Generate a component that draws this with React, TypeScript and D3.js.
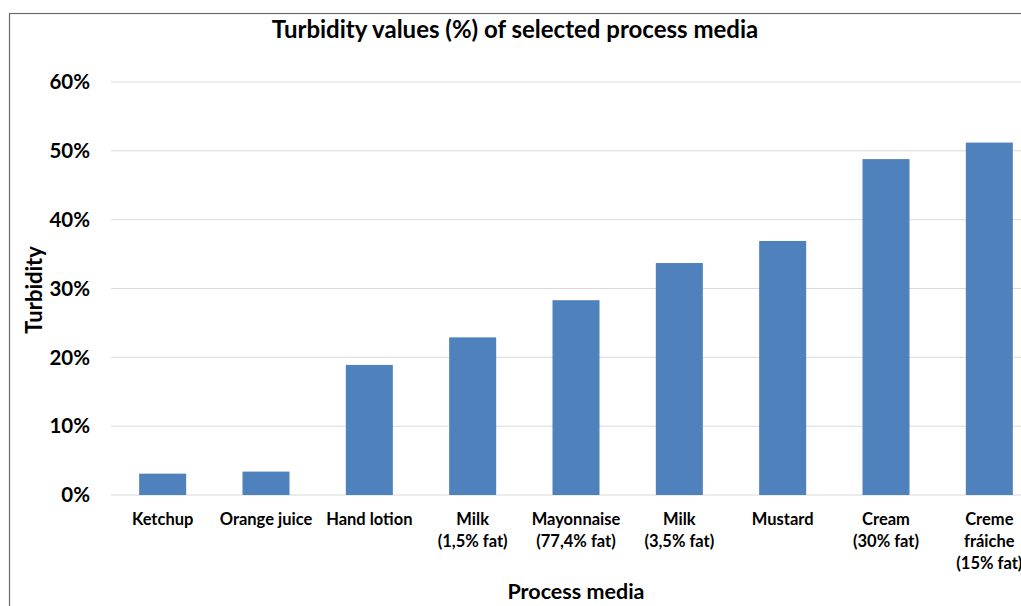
import React from 'react';
import * as d3 from 'd3';

const categories = [
  ['Ketchup'],
  ['Orange juice'],
  ['Hand lotion'],
  ['Milk', '(1,5% fat)'],
  ['Mayonnaise', '(77,4% fat)'],
  ['Milk', '(3,5% fat)'],
  ['Mustard'],
  ['Cream', '(30% fat)'],
  ['Creme', 'fráiche', '(15% fat)'],
];
const turbidity = [0.031, 0.034, 0.189, 0.229, 0.283, 0.337, 0.369, 0.488, 0.512];
const yTicks = [0, 0.1, 0.2, 0.3, 0.4, 0.5, 0.6];

const W = 1021;
const H = 606;
const margin = { top: 82, right: -20, bottom: 111, left: 111 };
const font = 'Lato, "Open Sans", sans-serif';

export default function App() {
  const width = W - margin.left - margin.right;
  const height = H - margin.top - margin.bottom;
  const keys = categories.map((c) => c.join(' '));

  const x = d3.scaleBand().domain(keys).range([0, width]).paddingInner(0.545).paddingOuter(0.2725);
  const y = d3.scaleLinear().domain([0, 0.6]).range([height, 0]);
  const fmt = d3.format('.0%');

  return (
    <svg width={W} height={H} style={{ position: 'absolute', left: 0, top: 0 }}>
      <rect x={0} y={0} width={W} height={H} fill="#fff" />
      <rect x={9.5} y={13.5} width={W + 20} height={H + 20} fill="none" stroke="#6a6a6a" strokeWidth={1.2} />
      <text x={515} y={38} textAnchor="middle" fontFamily={font} fontWeight={700} fontSize={24} fill="#000">
        Turbidity values (%) of selected process media
      </text>
      <g transform={`translate(${margin.left},${margin.top})`}>
        {yTicks.map((t) => (
          <g key={t}>
            <line x1={0} x2={width} y1={y(t)} y2={y(t)} stroke="#d9d9d9" strokeWidth={1} />
            <text x={-21} y={y(t)} dy="0.35em" textAnchor="end" fontFamily={font} fontWeight={700} fontSize={20.5} fill="#000">
              {fmt(t)}
            </text>
          </g>
        ))}
        {keys.map((k, i) => (
          <rect key={k} x={x(k)} y={y(turbidity[i])} width={x.bandwidth()} height={height - y(turbidity[i])} fill="#4f81bd" />
        ))}
        {categories.map((c, i) => (
          <text key={keys[i]} x={(x(keys[i]) as number) + x.bandwidth() / 2} y={height + 30} textAnchor="middle" fontFamily={font} fontWeight={700} fontSize={16.5} fill="#000">
            {c.map((line, j) => (
              <tspan key={j} x={(x(keys[i]) as number) + x.bandwidth() / 2} dy={j === 0 ? 0 : 22}>
                {line}
              </tspan>
            ))}
          </text>
        ))}
        <text transform={`translate(${34 - margin.left},${290 - margin.top}) rotate(-90)`} textAnchor="middle" dy="0.35em" fontFamily={font} fontWeight={700} fontSize={22} fill="#000">
          Turbidity
        </text>
        <text x={width / 2} y={height + 104} textAnchor="middle" fontFamily={font} fontWeight={700} fontSize={21.5} fill="#000">
          Process media
        </text>
      </g>
    </svg>
  );
}
